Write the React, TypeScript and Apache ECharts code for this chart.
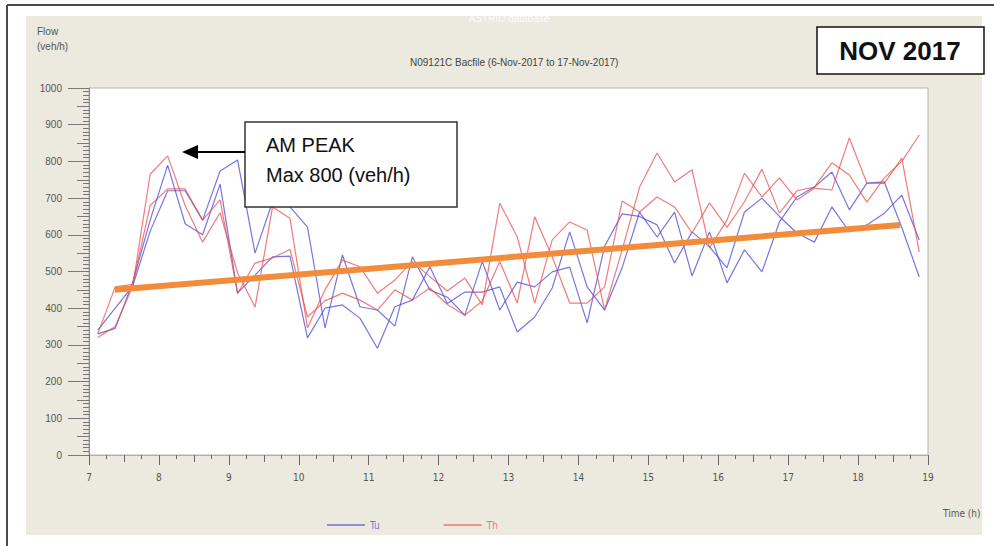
import React, { useEffect, useRef } from "react";
import * as echarts from "echarts";

// Time of each 15-minute sample (hours), mid-interval
const times = [
  7.125, 7.375, 7.625, 7.875, 8.125, 8.375, 8.625, 8.875, 9.125, 9.375, 9.625, 9.875,
  10.125, 10.375, 10.625, 10.875, 11.125, 11.375, 11.625, 11.875, 12.125, 12.375, 12.625, 12.875,
  13.125, 13.375, 13.625, 13.875, 14.125, 14.375, 14.625, 14.875, 15.125, 15.375, 15.625, 15.875,
  16.125, 16.375, 16.625, 16.875, 17.125, 17.375, 17.625, 17.875, 18.125, 18.375, 18.625, 18.875,
];

// Tuesday flows (veh/h)
const tuA = [
  330, 345, 470, 640, 790, 630, 600, 738, 441, 490, 540, 542,
  319, 400, 409, 373, 291, 404, 422, 513, 413, 444, 444, 458,
  335, 376, 455, 608, 458, 395, 510, 662, 594, 662, 488, 608,
  469, 559, 499, 635, 703, 730, 771, 668, 741, 744, 620, 485,
];
const tuB = [
  340, 400, 460, 610, 720, 720, 640, 774, 804, 550, 690, 676,
  621, 346, 545, 404, 395, 351, 540, 450, 430, 381, 527, 395,
  471, 458, 499, 512, 360, 569, 657, 650, 627, 523, 608, 567,
  510, 662, 700, 650, 605, 580, 676, 608, 627, 659, 708, 586,
];

// Thursday flows (veh/h)
const thA = [
  320, 350, 460, 765, 815, 680, 580, 660, 496, 403, 676, 645,
  346, 450, 531, 513, 441, 477, 527, 486, 447, 482, 409, 686,
  594, 414, 586, 635, 613, 395, 559, 730, 823, 744, 777, 564,
  640, 768, 703, 755, 695, 727, 722, 864, 741, 740, 809, 553,
];
const thB = [
  330, 458, 465, 680, 725, 725, 640, 695, 440, 523, 537, 560,
  376, 420, 441, 422, 395, 450, 422, 455, 410, 381, 420, 527,
  414, 649, 540, 414, 414, 458, 692, 662, 703, 676, 605, 687,
  620, 690, 779, 659, 720, 730, 796, 763, 689, 755, 800, 872,
];

// Trend line end points [hour, veh/h]
const trendStart = [7.37, 450];
const trendEnd = [18.6, 627];

const BLUE = "rgba(72,72,215,0.75)";
const RED = "rgba(236,72,72,0.72)";
const ORANGE = "#F28C3A";
const SANS = "'Liberation Sans', Arial, sans-serif";
const NARROW = "'Liberation Sans Narrow', 'DejaVu Sans Condensed', 'Liberation Sans', sans-serif";

const pair = (vals: number[]) => times.map((t, i) => [t, vals[i]]);

export default function App() {
  const ref = useRef<HTMLDivElement>(null);
  useEffect(() => {
    if (!ref.current) return;
    const chart = echarts.init(ref.current, null, { renderer: "svg" });
    const lineSeries = (name: string, vals: number[], color: string) => ({
      name,
      type: "line",
      data: pair(vals),
      symbol: "none",
      color,
      lineStyle: { color, width: 1.2 },
      z: 3,
    });
    chart.setOption({
      animation: false,
      backgroundColor: "#ffffff",
      textStyle: { fontFamily: SANS },
      title: {
        text: "N09121C Bacfile (6-Nov-2017 to 17-Nov-2017)",
        left: 405,
        top: 52,
        textStyle: { fontSize: 10, fontWeight: "normal", color: "#444", fontFamily: SANS },
      },
      grid: {
        left: 89,
        top: 88,
        right: 66,
        bottom: 91,
        show: true,
        backgroundColor: "#ffffff",
        borderColor: "#b5b5b5",
        borderWidth: 1,
      },
      legend: {
        data: [
          { name: "Tu", textStyle: { color: BLUE } },
          { name: "Th", textStyle: { color: RED } },
        ],
        left: 322,
        top: 515,
        icon: "rect",
        itemWidth: 38,
        itemHeight: 1.5,
        itemGap: 64,
        textStyle: { fontSize: 10, fontFamily: NARROW },
      },
      xAxis: [
        {
          type: "value",
          min: 7,
          max: 19,
          interval: 1,
          position: "bottom",
          axisLine: { show: true, onZero: false, lineStyle: { color: "#a9b2bb", width: 1 } },
          axisTick: { show: true, length: 10, lineStyle: { color: "#666" } },
          minorTick: { show: true, splitNumber: 4, length: 4, lineStyle: { color: "#666" } },
          splitLine: { show: false },
          minorSplitLine: { show: false },
          axisLabel: { margin: 17, color: "#555", fontSize: 10, fontFamily: NARROW },
        },
        {
          type: "value",
          min: 7,
          max: 19,
          interval: 0.5,
          position: "bottom",
          axisLine: { show: false },
          axisTick: { show: true, length: 7, lineStyle: { color: "#666" } },
          axisLabel: { show: false },
          splitLine: { show: false },
        },
      ],
      yAxis: [
        {
          type: "value",
          min: 0,
          max: 1000,
          interval: 100,
          position: "left",
          axisLine: { show: true, lineStyle: { color: "#8a8a8a", width: 1 } },
          axisTick: { show: true, length: 21, lineStyle: { color: "#777" } },
          minorTick: { show: true, splitNumber: 10, length: 6, lineStyle: { color: "#777" } },
          splitLine: { show: false },
          minorSplitLine: { show: false },
          axisLabel: {
            margin: 27,
            color: "#555",
            fontSize: 10,
            fontFamily: SANS,
            formatter: (v: number) => String(v),
          },
        },
        {
          type: "value",
          min: 0,
          max: 1000,
          interval: 50,
          position: "left",
          offset: 0,
          axisLine: { show: false },
          axisTick: { show: true, length: 12, lineStyle: { color: "#777" } },
          axisLabel: { show: false },
          splitLine: { show: false },
        },
      ],
      series: [
        lineSeries("Tu", tuA, BLUE),
        lineSeries("Tu", tuB, BLUE),
        lineSeries("Th", thA, RED),
        lineSeries("Th", thB, RED),
        {
          name: "Trend",
          type: "line",
          data: [trendStart, trendEnd],
          symbol: "none",
          color: ORANGE,
          lineStyle: { color: ORANGE, width: 6, cap: "butt" },
          z: 5,
        },
      ],
      graphic: [
        {
          type: "rect",
          z: -1,
          silent: true,
          shape: { x: 26, y: 16, width: 956, height: 519 },
          style: { fill: "#ECE9DF" },
        },
        {
          type: "line",
          silent: true,
          shape: { x1: 7, y1: 5, x2: 994, y2: 5 },
          style: { stroke: "#4a4a4a", lineWidth: 2 },
        },
        {
          type: "line",
          silent: true,
          shape: { x1: 7, y1: 5, x2: 7, y2: 546 },
          style: { stroke: "#4a4a4a", lineWidth: 2 },
        },
        {
          type: "text",
          silent: true,
          x: 509,
          y: 18,
          style: {
            text: "ASTRID database",
            fill: "rgba(255,255,255,0.9)",
            font: "10px " + SANS,
            align: "center",
            verticalAlign: "middle",
          },
        },
        {
          type: "text",
          silent: true,
          x: 37,
          y: 31,
          style: { text: "Flow", fill: "#555", font: "10px " + SANS, align: "left", verticalAlign: "middle" },
        },
        {
          type: "text",
          silent: true,
          x: 37,
          y: 46,
          style: { text: "(veh/h)", fill: "#555", font: "10px " + SANS, align: "left", verticalAlign: "middle" },
        },
        {
          type: "text",
          silent: true,
          x: 943,
          y: 513,
          style: { text: "Time (h)", fill: "#555", font: "10px " + NARROW, align: "left", verticalAlign: "middle" },
        },
        {
          type: "rect",
          z: 20,
          silent: true,
          shape: { x: 817, y: 27, width: 167, height: 47 },
          style: { fill: "#ffffff", stroke: "#111", lineWidth: 1.5 },
        },
        {
          type: "text",
          z: 21,
          silent: true,
          x: 900,
          y: 51,
          style: {
            text: "NOV 2017",
            fill: "#111",
            font: "bold 26px " + SANS,
            align: "center",
            verticalAlign: "middle",
          },
        },
        {
          type: "rect",
          z: 20,
          silent: true,
          shape: { x: 245, y: 122, width: 212, height: 85 },
          style: { fill: "#ffffff", stroke: "#333", lineWidth: 1.5 },
        },
        {
          type: "text",
          z: 21,
          silent: true,
          x: 266,
          y: 145,
          style: { text: "AM PEAK", fill: "#111", font: "20px " + SANS, align: "left", verticalAlign: "middle" },
        },
        {
          type: "text",
          z: 21,
          silent: true,
          x: 266,
          y: 175,
          style: {
            text: "Max 800 (veh/h)",
            fill: "#111",
            font: "20px " + SANS,
            align: "left",
            verticalAlign: "middle",
          },
        },
        {
          type: "line",
          z: 21,
          silent: true,
          shape: { x1: 196, y1: 152, x2: 245, y2: 152 },
          style: { stroke: "#000", lineWidth: 2 },
        },
        {
          type: "polygon",
          z: 21,
          silent: true,
          shape: { points: [[182, 152], [198, 145], [198, 159]] },
          style: { fill: "#000" },
        },
      ],
    });
    return () => chart.dispose();
  }, []);
  return (
    <div
      ref={ref}
      style={{ position: "fixed", left: 0, top: 0, width: 994, height: 546, background: "#fff" }}
    />
  );
}
